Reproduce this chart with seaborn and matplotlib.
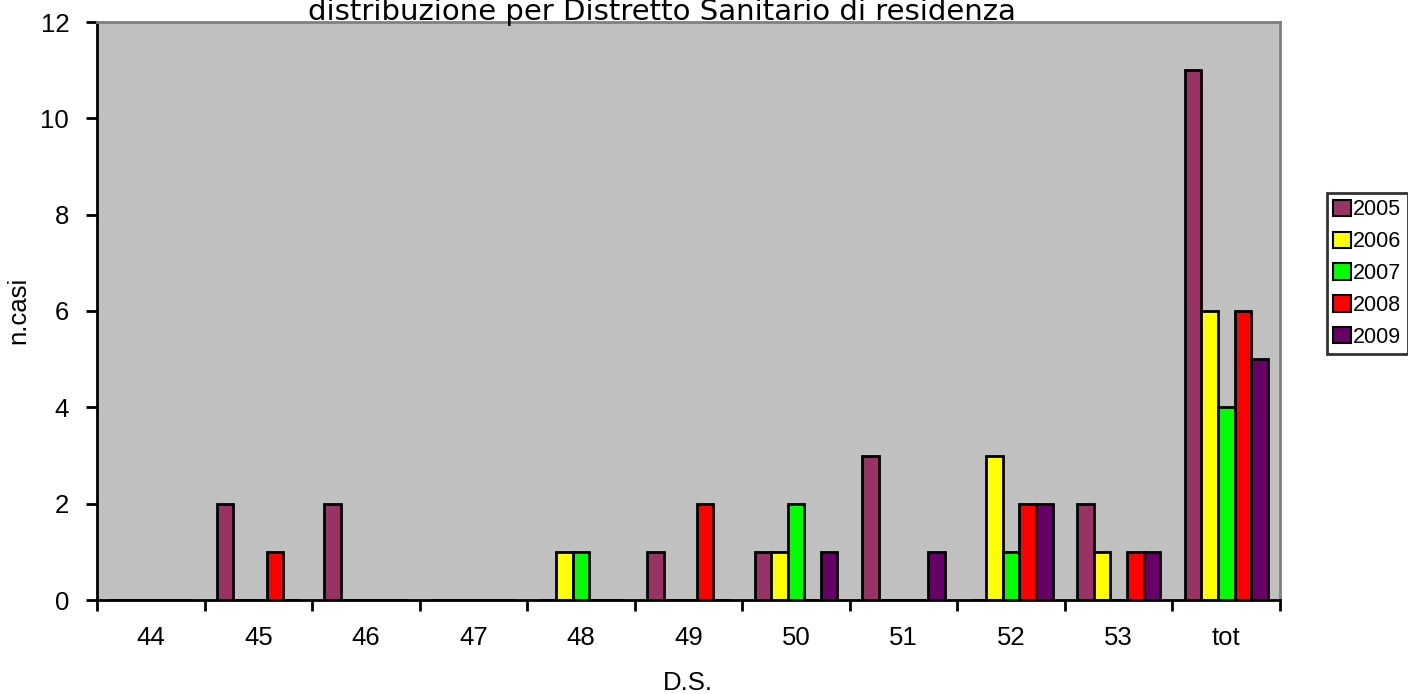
import matplotlib
matplotlib.use("Agg")
import matplotlib.pyplot as plt
import seaborn as sns
import pandas as pd

categories = ["44", "45", "46", "47", "48", "49", "50", "51", "52", "53", "tot"]
years = ["2005", "2006", "2007", "2008", "2009"]
v2005 = [0, 2, 2, 0, 0, 1, 1, 3, 0, 2, 11]
v2006 = [0, 0, 0, 0, 1, 0, 1, 0, 3, 1, 6]
v2007 = [0, 0, 0, 0, 1, 0, 2, 0, 1, 0, 4]
v2008 = [0, 1, 0, 0, 0, 2, 0, 0, 2, 1, 6]
v2009 = [0, 0, 0, 0, 0, 0, 1, 1, 2, 1, 5]
colors = ["#993366", "#FFFF00", "#00FF00", "#FF0000", "#660066"]

rows = []
for y, vals in zip(years, [v2005, v2006, v2007, v2008, v2009]):
    for c, v in zip(categories, vals):
        rows.append({"DS": c, "anno": y, "n": v})
df = pd.DataFrame(rows)

sns.set_style("ticks")
plt.rcParams["font.family"] = ["Liberation Sans", "DejaVu Sans"]
plt.rcParams["xtick.bottom"] = True
plt.rcParams["ytick.left"] = True
plt.rcParams["text.color"] = "black"
plt.rcParams["axes.labelcolor"] = "black"
plt.rcParams["xtick.color"] = "black"
plt.rcParams["ytick.color"] = "black"

fig = plt.figure(figsize=(14.08, 6.94), dpi=100)
ax = fig.add_axes([97/1408, 1-600/694, (1280-97)/1408, (600-22)/694])
sns.barplot(data=df, x="DS", y="n", hue="anno", order=categories, hue_order=years,
            palette=colors, width=0.77, edgecolor="black", linewidth=2,
            saturation=1, ax=ax, gap=0)

ax.set_facecolor("#C0C0C0")
ax.set_ylim(0, 12)
ax.set_xlim(-0.5, len(categories) - 0.5)
ax.set_yticks(range(0, 13, 2))
ax.set_xticks([i - 0.5 for i in range(len(categories) + 1)], minor=False)
ax.set_xticklabels([])
ax.set_xticks(range(len(categories)), minor=True)
ax.set_xticklabels(categories, minor=True)
ax.tick_params(axis="x", which="major", direction="out", length=8, width=2, color="black")
ax.tick_params(axis="x", which="minor", bottom=False, length=0, pad=19, labelsize=18.5)
ax.tick_params(axis="y", direction="out", length=8, width=2, color="black", labelsize=18.5, pad=12)

for s in ["left", "bottom"]:
    ax.spines[s].set_color("black")
    ax.spines[s].set_linewidth(2)
for s in ["right", "top"]:
    ax.spines[s].set_visible(True)
    ax.spines[s].set_color("#808080")
    ax.spines[s].set_linewidth(2)

ax.set_xlabel("D.S.", fontsize=18.5)
ax.xaxis.set_label_coords(591/1183, -(671-600)/578)
ax.set_ylabel("n.casi", fontsize=18.5)
ax.yaxis.set_label_coords(-(97-30)/1183, (600-310)/578)

fig.text(662/1408, 1 - 12/694, "distribuzione per Distretto Sanitario di residenza",
         ha="center", va="center", fontsize=21, family=["DejaVu Sans"])

leg = ax.legend(loc="upper left", bbox_to_anchor=(1327/1408, 1 - 193/694),
                bbox_transform=fig.transFigure, frameon=True, fancybox=False,
                fontsize=15.5, handlelength=0.8, handleheight=0.8, handletextpad=0.12,
                borderpad=0.3, labelspacing=0.5, borderaxespad=0, title=None)
leg.get_frame().set_edgecolor("black")
leg.get_frame().set_linewidth(2)
for h in leg.legend_handles:
    h.set_edgecolor("black")
    h.set_linewidth(1.5)

fig.savefig("out.png", dpi=100)
